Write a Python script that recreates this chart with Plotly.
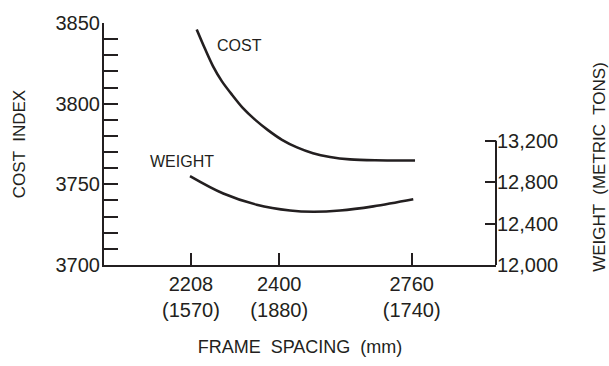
import plotly.graph_objects as go

# Frame spacing options (tick positions along the spacing axis and their labels)
spacing_pos = [1.0, 2.0, 3.5]
spacing_labels = ["2208<br>(1570)", "2400<br>(1880)", "2760<br>(1740)"]

# Cost index versus frame spacing position
cost_x = [1.065, 1.159, 1.249, 1.351, 1.465, 1.589, 1.725, 1.872, 2.031, 2.201,
          2.382, 2.575, 2.801, 3.084, 3.538]
cost_y = [3846.0, 3834.0, 3823.3, 3813.8, 3805.5, 3797.2, 3790.1, 3783.6, 3777.6, 3772.9,
          3769.3, 3767.0, 3765.5, 3764.9, 3764.8]

# Weight (metric tons) versus frame spacing position
weight_x = [0.989, 1.366, 1.744, 2.122, 2.386, 2.688, 3.065, 3.518]
weight_y = [12858, 12690, 12582, 12526, 12514, 12526, 12566, 12634]

# Axis tick values
cost_ticks = [3700, 3750, 3800, 3850]
weight_ticks = [12000, 12400, 12800, 13200]
weight_tick_text = ["12,000", "12,400", "12,800", "13,200"]

INK = "#231f20"
FONT = "Liberation Sans, Arial, sans-serif"

fig = go.Figure()
fig.add_trace(go.Scatter(x=cost_x, y=cost_y, mode="lines", name="COST",
                         line=dict(color=INK, width=2.6, shape="spline", smoothing=0.8),
                         yaxis="y"))
fig.add_trace(go.Scatter(x=weight_x, y=weight_y, mode="lines", name="WEIGHT",
                         line=dict(color=INK, width=2.6, shape="spline", smoothing=1.0),
                         yaxis="y2"))

# Right axis line only spans the labelled weight range
fig.add_shape(type="line", xref="paper", yref="y2", x0=1, x1=1,
              y0=weight_ticks[0], y1=weight_ticks[-1], line=dict(color=INK, width=2))

fig.add_annotation(text="COST", x=1.555, y=3836, xref="x", yref="y", showarrow=False,
                   font=dict(family=FONT, size=16, color=INK))
fig.add_annotation(text="WEIGHT", x=0.904, y=13000, xref="x", yref="y2", showarrow=False,
                   font=dict(family=FONT, size=16, color=INK))
# Right-hand axis title
fig.add_annotation(text="WEIGHT  (METRIC  TONS)", x=1.265, y=0.405, xref="paper", yref="paper",
                   textangle=-90, showarrow=False, xanchor="center", yanchor="middle",
                   font=dict(family=FONT, size=17, color=INK))

fig.update_layout(
    width=609, height=366,
    margin=dict(l=104, r=113, t=15, b=98),
    paper_bgcolor="white", plot_bgcolor="white",
    showlegend=False,
    font=dict(family=FONT, color=INK),
    xaxis=dict(range=[0.015, 4.455], tickvals=spacing_pos, ticktext=spacing_labels,
               ticks="inside", ticklen=12, tickwidth=2, tickcolor=INK,
               showline=True, linecolor=INK, linewidth=2, showgrid=False, zeroline=False,
               tickfont=dict(size=20, family=FONT, color=INK),
               title=dict(text="FRAME  SPACING  (mm)", standoff=20,
                          font=dict(size=18, family=FONT, color=INK))),
    yaxis=dict(range=[3700, 3850], tickvals=cost_ticks,
               ticks="inside", ticklen=14, tickwidth=2, tickcolor=INK,
               minor=dict(dtick=10, tick0=3700, ticks="inside", ticklen=14, tickwidth=1.5,
                          tickcolor=INK, showgrid=False),
               showline=True, linecolor=INK, linewidth=2, showgrid=False, zeroline=False,
               ticklabelstandoff=-2,
               tickfont=dict(size=20, family=FONT, color=INK),
               title=dict(text="COST  INDEX", standoff=26,
                          font=dict(size=17, family=FONT, color=INK))),
    yaxis2=dict(range=[12000, 14335], overlaying="y", side="right", anchor="x",
                tickvals=weight_ticks, ticktext=weight_tick_text,
                ticks="inside", ticklen=11, tickwidth=2, tickcolor=INK,
                showline=False, showgrid=False, zeroline=False,
                tickfont=dict(size=20, family=FONT, color=INK)),
)

fig.write_html("out.html")
